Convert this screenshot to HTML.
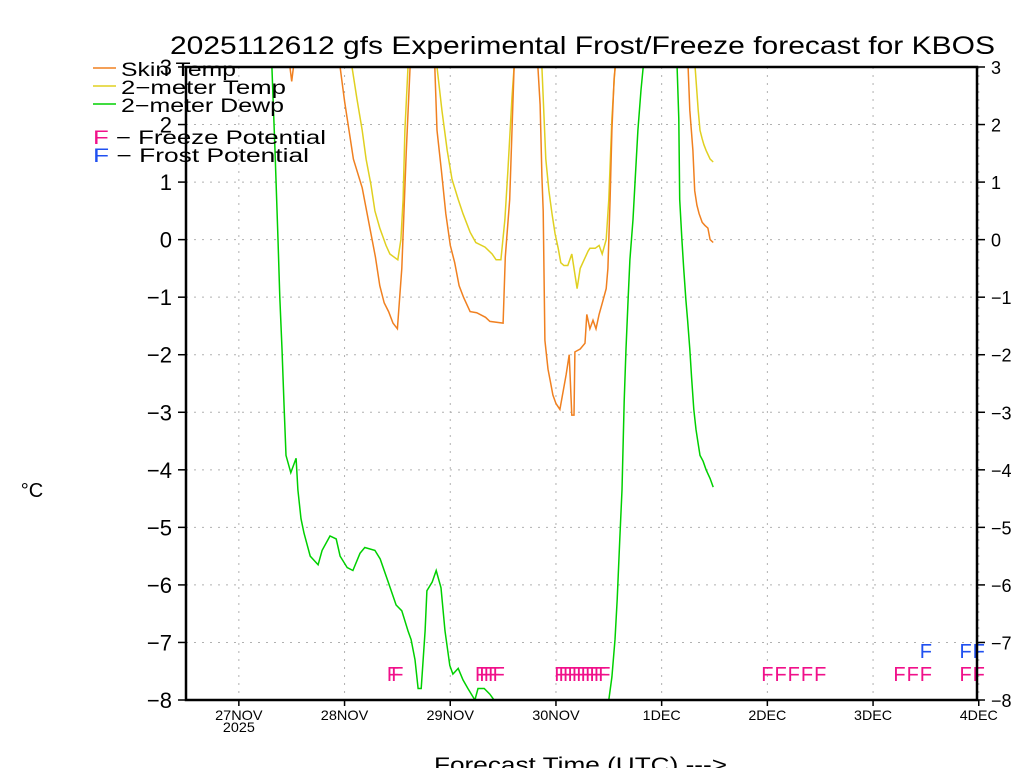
<!DOCTYPE html>
<html><head><meta charset="utf-8"><style>
body{margin:0;background:#fff;}
svg{display:block;font-family:"Liberation Sans","DejaVu Sans",sans-serif;}
</style></head><body>
<svg id="chart" width="1024" height="768" viewBox="0 0 1024 768" xmlns="http://www.w3.org/2000/svg">
<text x="170" y="54" font-size="25" textLength="825" lengthAdjust="spacingAndGlyphs" fill="#000">2025112612 gfs Experimental Frost/Freeze forecast for KBOS</text>
<text x="32" y="497" font-size="20" text-anchor="middle">°C</text>
<text x="434" y="772" font-size="21" textLength="293" lengthAdjust="spacingAndGlyphs">Forecast Time (UTC) ---&gt;</text>
<g id="grid"></g>
<defs><clipPath id="plotclip"><rect x="186" y="67" width="791" height="633"/></clipPath></defs>
<g id="series" clip-path="url(#plotclip)"></g>
<g id="marks"></g>
<g id="axes"></g>
<g id="legend">
<line x1="93" y1="68" x2="116" y2="68" stroke="#f08020" stroke-width="1.5"/>
<text x="121" y="76" font-size="19" textLength="115" lengthAdjust="spacingAndGlyphs">Skin Temp</text>
<line x1="93" y1="86" x2="116" y2="86" stroke="#e0d020" stroke-width="1.5"/>
<text x="121" y="94" font-size="19" textLength="165" lengthAdjust="spacingAndGlyphs">2−meter Temp</text>
<line x1="93" y1="104" x2="116" y2="104" stroke="#00d000" stroke-width="1.5"/>
<text x="121" y="112" font-size="19" textLength="163" lengthAdjust="spacingAndGlyphs">2−meter Dewp</text>
<text x="93" y="144" font-size="19" textLength="233" lengthAdjust="spacingAndGlyphs"><tspan fill="#f0108a">F</tspan> − Freeze Potential</text>
<text x="93" y="162" font-size="19" textLength="216" lengthAdjust="spacingAndGlyphs"><tspan fill="#2050f0">F</tspan> − Frost Potential</text>
</g>
</svg>
<script>
// Data (hours since 2025-11-26 12Z, °C)
const skinHours=[0,10,20,22,24,26,30,33,35,36,38,40,42,43,44,45,46,47,48,49,50,51,52,55,56.5,57,58,59,60,61,62,63,64.5,66,68,69,72,72.5,73.5,74.5,75.5,79,79.9,80.4,80.6,80.8,81.1,81.3,81.5,82.2,82.7,83.3,84,84.9,86.3,87,87.6,88.1,88.3,89.5,90.6,91,91.7,92.4,93.1,93.8,94.7,95.4,95.8,96.3,96.7,97.2,97.6,99,105,112,114,114.4,115.1,115.5,116,116.5,117.2,117.8,118.5,119,119.7];
const skinVals=[6,6,5,4,2.75,4,5,3.5,3,2.4,1.4,0.9,0.1,-0.3,-0.8,-1.1,-1.25,-1.45,-1.55,-0.5,1.5,3.2,5,5,3,1.9,1.2,0.45,-0.1,-0.4,-0.8,-1.0,-1.25,-1.27,-1.35,-1.42,-1.45,-0.3,0.7,3,5,4,3,2.35,1.75,1.1,0.5,-0.7,-1.75,-2.25,-2.45,-2.7,-2.85,-2.95,-2.35,-2.0,-3.05,-3.05,-1.95,-1.9,-1.8,-1.3,-1.55,-1.4,-1.55,-1.3,-1.05,-0.85,-0.5,0.7,1.9,2.8,3.1,5,7,5,3,2.25,1.55,0.85,0.6,0.45,0.3,0.25,0.2,0,-0.05];
const t2Hours=[0,20,37.7,38.8,40,40.9,42,42.9,44,45.4,46.3,48.1,48.8,49.3,49.7,50.4,53,57,58.1,59.3,60.4,61.8,62.9,64.5,65.8,67.9,69.5,70.4,71.5,72.4,73.1,74,74.5,77,80.8,81.3,81.7,82.4,83.1,83.8,84.5,85.1,85.8,86.7,87.6,88.1,88.8,89.5,90.4,91.3,91.7,92.9,93.8,94.5,95.4,96,96.7,97.4,100,110,115.6,116.3,116.7,117.2,117.6,118.1,119,119.7];
const t2Vals=[7,6,3,2.45,1.9,1.4,0.95,0.5,0.2,-0.1,-0.25,-0.35,0,0.7,1.9,3,5,3,2.25,1.55,1.05,0.7,0.45,0.13,-0.05,-0.13,-0.25,-0.35,-0.35,0.35,1.2,2.45,3,5,3,2.1,1.4,0.85,0.45,0.1,-0.15,-0.4,-0.45,-0.45,-0.25,-0.5,-0.85,-0.5,-0.35,-0.2,-0.15,-0.15,-0.1,-0.25,0,0.7,2.1,3,6,8,3,2.25,1.9,1.75,1.65,1.55,1.4,1.35];
const dewHours=[0,19.5,20.2,20.9,21.3,21.8,22.3,22.7,23.8,25,25.4,26.1,26.8,28.2,30,30.9,32.7,34.1,35,36.6,37.9,39.5,40.6,42.9,44.1,45.9,47.7,49,50.4,51.1,52,52.7,53.4,54.3,54.7,55.9,56.8,57.9,58.8,59.9,60.6,61.8,62.9,64,65.6,66.3,67.7,69,70.4,73.6,82.7,94,96,96.7,97.4,97.9,98.5,99,99.5,99.9,100.4,100.8,101.5,102,102.6,103.3,103.8,105.4,110,111.5,111.9,112.1,112.6,113,113.5,113.9,114.4,114.8,115.3,115.8,116.3,116.7,117.4,118.1,119,119.7];
const dewVals=[5,3,1.55,0,-1.0,-1.9,-2.95,-3.75,-4.05,-3.8,-4.35,-4.85,-5.1,-5.5,-5.65,-5.4,-5.15,-5.2,-5.5,-5.7,-5.75,-5.45,-5.35,-5.4,-5.55,-5.95,-6.35,-6.45,-6.8,-6.95,-7.3,-7.8,-7.8,-6.8,-6.1,-5.95,-5.75,-6.05,-6.8,-7.4,-7.55,-7.45,-7.65,-7.8,-8.0,-7.8,-7.8,-7.9,-8.05,-8.3,-9,-8.5,-8,-7.6,-6.95,-6.25,-5.2,-4.35,-2.8,-1.9,-1.0,-0.35,0.35,1.05,1.9,2.6,3,4,4,3,2.1,0.7,0,-0.5,-1.05,-1.4,-1.9,-2.4,-2.95,-3.3,-3.55,-3.75,-3.85,-4.0,-4.15,-4.3];
const freezeHours=[47,48,67,68,69,70,71,85,86,87,88,89,90,91,92,93,94,95,132,135,138,141,144,162,165,168,177,180];
const frostHours=[168,177,180];
const dayLabels=["27NOV","28NOV","29NOV","30NOV","1DEC","2DEC","3DEC","4DEC"];
const dayHours=[12,36,60,84,108,132,156,180];
const yTicks=[3,2,1,0,-1,-2,-3,-4,-5,-6,-7,-8];

const X0=186,X1=977,Y0=67,Y1=700,HMAX=179.6,VMIN=-8,VMAX=3;
const xs=h=>X0+(h/HMAX)*(X1-X0);
const ys=v=>Y1-(v-VMIN)/(VMAX-VMIN)*(Y1-Y0);
const NS="http://www.w3.org/2000/svg";
function mk(tag,attrs,parent){const e=document.createElementNS(NS,tag);for(const k in attrs)e.setAttribute(k,attrs[k]);parent.appendChild(e);return e;}
const grid=document.getElementById('grid'),axes=document.getElementById('axes'),ser=document.getElementById('series'),marks=document.getElementById('marks');
yTicks.forEach(v=>{
  const y=ys(v);
  const g=mk('line',{x1:X0,x2:X1,y1:y,y2:y,stroke:'#b0b0b0','stroke-dasharray':'2,6'},grid);
  
  
  mk('line',{x1:X0-8,x2:X0,y1:y,y2:y,stroke:'#000','stroke-width':1.5},axes);
  mk('line',{x1:X1,x2:X1+8,y1:y,y2:y,stroke:'#000','stroke-width':1.5},axes);
  const lab=(v<0?'−':'')+Math.abs(v);
  const t1=mk('text',{x:X0-14,y:y+8,'font-size':22,'text-anchor':'end'},axes);t1.textContent=lab;
  
  
  const t2=mk('text',{x:X1+14,y:y+7,'font-size':18},axes);t2.textContent=lab;
  
  
});
dayHours.forEach((h,i)=>{
  const x=xs(h);
  const g=mk('line',{x1:x,x2:x,y1:Y0,y2:Y1,stroke:'#b0b0b0','stroke-dasharray':'2,6'},grid);
  
  
  mk('line',{x1:x,x2:x,y1:Y1,y2:Y1+6,stroke:'#000','stroke-width':1.5},axes);
  const L=dayLabels[i].length*9.5;
  const t=mk('text',{x:x-L/2,y:Y1+20,'font-size':14,textLength:L,lengthAdjust:'spacingAndGlyphs'},axes);t.textContent=dayLabels[i];
  
  
});
const yr=mk('text',{x:xs(dayHours[0])-16,y:Y1+32,'font-size':13.5,textLength:32,lengthAdjust:'spacingAndGlyphs'},axes);yr.textContent='2025';


const fr=mk('rect',{x:X0,y:Y0,width:X1-X0,height:Y1-Y0,fill:'none',stroke:'#000','stroke-width':2.5},axes);


function line(hs,vs,color,name){
  const d=hs.map((h,i)=>(i?'L':'M')+xs(h).toFixed(1)+','+ys(vs[i]).toFixed(1)).join('');
  const p=mk('path',{d:d,fill:'none',stroke:color,'stroke-width':1.5},ser);
  
  
}
line(dewHours,dewVals,'#00d000','dewpoint-line');
line(t2Hours,t2Vals,'#e0d020','2m-temp-line');
line(skinHours,skinVals,'#f08020','skin-temp-line');
freezeHours.forEach(h=>{
  const t=mk('text',{x:xs(h),y:ys(-7.5)+10,'font-size':20,'text-anchor':'middle',fill:'#f0108a'},marks);t.textContent='F';
  
  
});
frostHours.forEach(h=>{
  const t=mk('text',{x:xs(h),y:ys(-7.1)+10,'font-size':20,'text-anchor':'middle',fill:'#2050f0'},marks);t.textContent='F';
  
  
});
</script>
</body></html>
